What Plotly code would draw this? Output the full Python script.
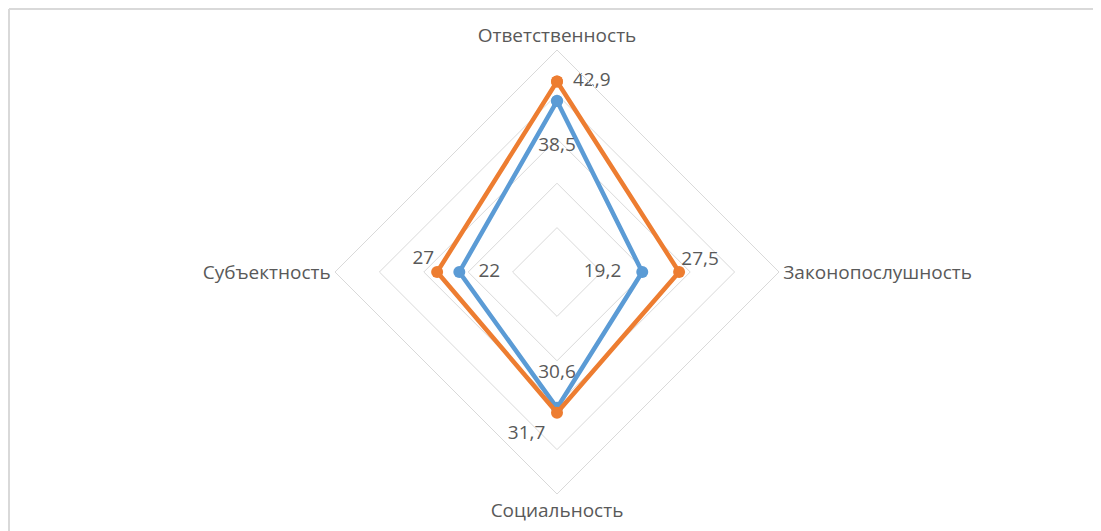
import plotly.graph_objects as go

categories = ["Ответственность", "Законопослушность", "Социальность", "Субъектность"]
series1_name = "Ряд 1"
series1_values = [38.5, 19.2, 30.6, 22]
series2_name = "Ряд 2"
series2_values = [42.9, 27.5, 31.7, 27]

BLUE = "#5B9BD5"
ORANGE = "#ED7D31"
GRID = "#D9D9D9"
TEXT = "#595959"
FONT = "Open Sans"

# the page body adds an 8px offset; the figure is sized to fit inside the window
OFF = 8
W, H = 1101 - OFF, 531 - OFF
CX, CY, R = 557 - OFF, 272 - OFF, 222


def fmt(v):
    return str(v).replace(".", ",")


def closed(lst):
    return list(lst) + [lst[0]]


fig = go.Figure()

for name, vals, color in [(series1_name, series1_values, BLUE),
                          (series2_name, series2_values, ORANGE)]:
    fig.add_trace(go.Scatterpolar(
        r=closed(vals), theta=closed(categories), name=name,
        mode="lines+markers",
        line=dict(color=color, width=4.5),
        marker=dict(color=color, size=12, line=dict(width=0)),
        hoverinfo="skip", showlegend=False,
    ))

# data labels: invisible markers whose size sets the label offset
label_specs = [
    (series1_values, ["bottom center", "middle left", "top center", "middle right"], [56, 32, 38, 29]),
    (series2_values, ["middle right", "top right", "bottom left", "top left"], [24, 2, 17, 3]),
]
for vals, positions, sizes in label_specs:
    fig.add_trace(go.Scatterpolar(
        r=vals, theta=categories, mode="markers+text",
        text=[fmt(v) for v in vals], textposition=positions,
        textfont=dict(family=FONT, size=19, color=TEXT),
        marker=dict(size=sizes, color="rgba(0,0,0,0)", line=dict(width=0)),
        hoverinfo="skip", showlegend=False,
    ))

fig.update_layout(
    width=W, height=H,
    margin=dict(l=0, r=0, t=0, b=0),
    paper_bgcolor="white", plot_bgcolor="white",
    font=dict(family=FONT, color=TEXT),
    showlegend=False,
    polar=dict(
        domain=dict(x=[(CX - R) / W, (CX + R) / W],
                    y=[(H - CY - R) / H, (H - CY + R) / H]),
        gridshape="linear",
        bgcolor="white",
        radialaxis=dict(range=[0, 50], dtick=10, showticklabels=False, ticks="",
                        showline=False, gridcolor=GRID, gridwidth=1),
        angularaxis=dict(type="category", categoryarray=categories,
                         direction="clockwise", rotation=90,
                         showgrid=False, showline=True, linecolor=GRID, linewidth=1,
                         ticks="", tickfont=dict(family=FONT, size=19, color=TEXT)),
    ),
    shapes=[
        dict(type="line", xref="paper", yref="paper", x0=1 / W, x1=1.02, y0=1 - 1 / H, y1=1 - 1 / H,
             line=dict(color=GRID, width=2)),
        dict(type="line", xref="paper", yref="paper", x0=1 / W, x1=1 / W, y0=1 - 1 / H, y1=-0.02,
             line=dict(color=GRID, width=2)),
    ],
)

fig.write_html("out.html")
